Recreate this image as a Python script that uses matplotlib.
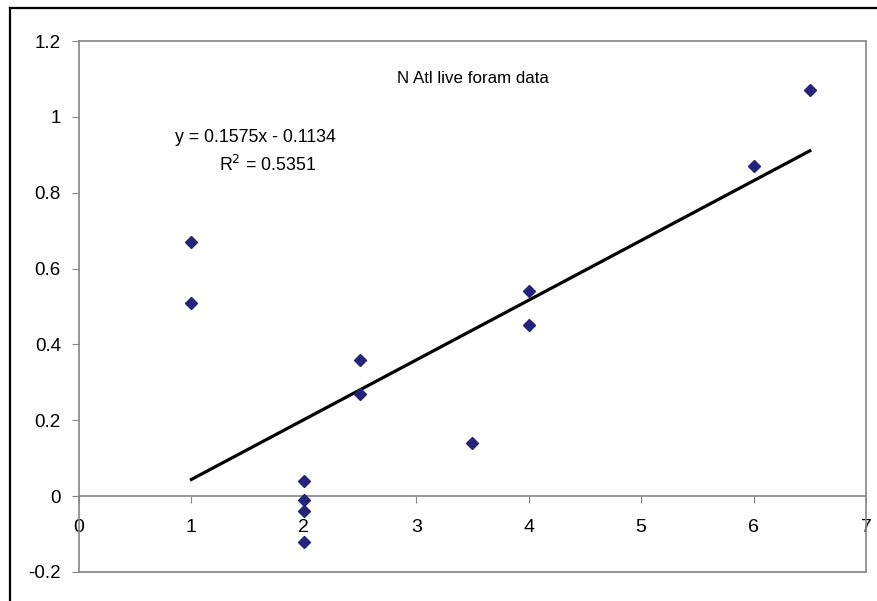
import numpy as np
import matplotlib.pyplot as plt
from matplotlib.lines import Line2D

# N Atlantic live foram data
x_vals = [1, 1, 2, 2, 2, 2, 2.5, 2.5, 3.5, 4, 4, 6, 6.5]
y_vals = [0.67, 0.51, 0.04, -0.01, -0.04, -0.12, 0.36, 0.27, 0.14, 0.54, 0.45, 0.87, 1.07]

# linear trendline as reported on the chart
slope = 0.1575
intercept = -0.1134
r_squared = 0.5351

x_ticks = [0, 1, 2, 3, 4, 5, 6, 7]
y_ticks = [-0.2, 0, 0.2, 0.4, 0.6, 0.8, 1, 1.2]
y_tick_labels = ["-0.2", "0", "0.2", "0.4", "0.6", "0.8", "1", "1.2"]

plt.rcParams['font.family'] = ['Liberation Sans', 'DejaVu Sans']

fig = plt.figure(figsize=(8.77, 6.01), dpi=100)
ax = fig.add_axes([79/877, 1 - 572/601, 787/877, 531/601])

gray = "#858585"

# scatter points
ax.plot(x_vals, y_vals, linestyle="none", marker="D", markersize=6.3,
        color="#24247a", zorder=3)

# trendline over the data range
xl = np.array([min(x_vals), max(x_vals)])
ax.plot(xl, slope * xl + intercept, color="black", linewidth=2.3, zorder=2)

ax.set_xlim(0, 7)
ax.set_ylim(-0.2, 1.2)

# x axis crosses at y = 0
ax.spines['bottom'].set_position(('data', 0))
for s in ax.spines.values():
    s.set_color(gray)
    s.set_linewidth(1.2)
ax.add_line(Line2D([0, 1], [0, 0], transform=ax.transAxes, color=gray,
                   linewidth=1.2, clip_on=False))

ax.set_xticks(x_ticks)
ax.set_xticklabels([str(t) for t in x_ticks], family=['Liberation Sans Narrow', 'Liberation Sans'],
                   fontsize=14)
ax.set_yticks(y_ticks)
ax.set_yticklabels(y_tick_labels, fontsize=13.5)
ax.tick_params(axis='x', direction='out', length=5, color=gray, pad=11.5)
ax.tick_params(axis='y', direction='out', length=5, color=gray, pad=8)

ax.text(0.5006, 0.930, "N Atl live foram data", transform=ax.transAxes,
        ha="center", va="center", fontsize=12.2)
ax.text(0.2236, 0.819, f"y = {slope}x - {abs(intercept)}", transform=ax.transAxes,
        ha="center", va="center", fontsize=12.8)
ax.text(0.240, 0.766, f"R$^2$ = {r_squared}", transform=ax.transAxes,
        ha="center", va="center", fontsize=12.8)

# outer chart border (cropped on right and bottom)
fig.add_artist(Line2D([10/877, 10/877], [-0.1, 1 - 8/601], transform=fig.transFigure,
                      color="black", linewidth=1.6))
fig.add_artist(Line2D([10/877, 1.1], [1 - 8/601, 1 - 8/601], transform=fig.transFigure,
                      color="black", linewidth=1.6))

fig.savefig("out.png", dpi=100)
